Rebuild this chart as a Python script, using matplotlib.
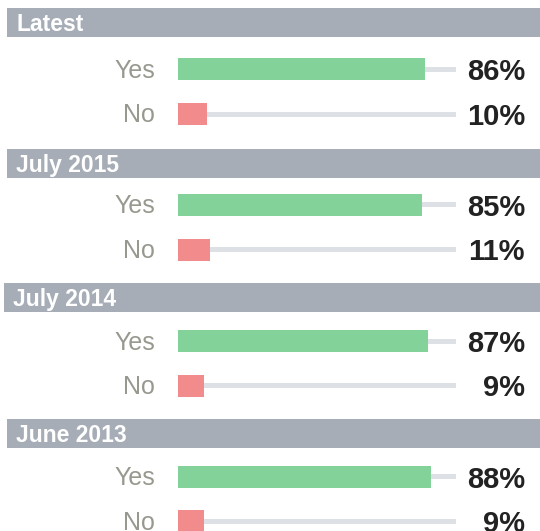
import matplotlib
matplotlib.use("Agg")
import matplotlib.pyplot as plt
from matplotlib.patches import Rectangle

# ---- data ----
periods = ["Latest", "July 2015", "July 2014", "June 2013"]
answers = ["Yes", "No"]
yes_values = [86, 85, 87, 88]
no_values = [10, 11, 9, 9]

# ---- layout (pixel units) ----
W, H = 540, 531
BAR_LEFT_PX = 178
PX_PER_PCT = 2.875
TRACK_MAX = 96.7
header_top = [8, 149, 283, 419]
header_left = [7, 7, 4, 7]
yes_centre = [69, 204.5, 341, 476.5]
no_centre = [114, 249.5, 385.5, 521]

GREEN = "#83d299"
RED = "#f28b8b"
TRACK = "#dde1e5"
HEADER = "#a6adb6"
LABEL = "#98988f"
VALUE = "#222222"

plt.rcParams["font.family"] = ["Liberation Sans", "DejaVu Sans"]

fig = plt.figure(figsize=(W / 100, H / 100), dpi=100)
ax = fig.add_axes([0, 0, 1, 1])
ax.set_xlim(-BAR_LEFT_PX / PX_PER_PCT, (W - BAR_LEFT_PX) / PX_PER_PCT)
ax.set_ylim(H, 0)
ax.axis("off")


def px2x(px):
    return (px - BAR_LEFT_PX) / PX_PER_PCT


for i, period in enumerate(periods):
    # header band
    x0 = px2x(header_left[i])
    ax.add_patch(Rectangle((x0, header_top[i]), px2x(W + 5) - x0, 29,
                           facecolor=HEADER, edgecolor="none", zorder=1))
    ax.text(px2x(header_left[i] + 9), header_top[i] + 23, period,
            color="white", fontsize=16.5, fontweight="bold",
            ha="left", va="baseline", zorder=3)

    rows = [(answers[0], yes_values[i], yes_centre[i], GREEN),
            (answers[1], no_values[i], no_centre[i], RED)]
    for label, val, yc, col in rows:
        ax.barh(yc, TRACK_MAX, height=5, left=0, color=TRACK, zorder=1)
        ax.barh(yc, val, height=22, left=0, color=col, zorder=2)
        ax.text(px2x(155), yc + 8.5, label, color=LABEL, fontsize=18,
                ha="right", va="baseline")
        ax.text(px2x(525), yc + 11, f"{val}%", color=VALUE, fontsize=21,
                fontweight="bold", ha="right", va="baseline")

fig.savefig("out.png", dpi=100)
